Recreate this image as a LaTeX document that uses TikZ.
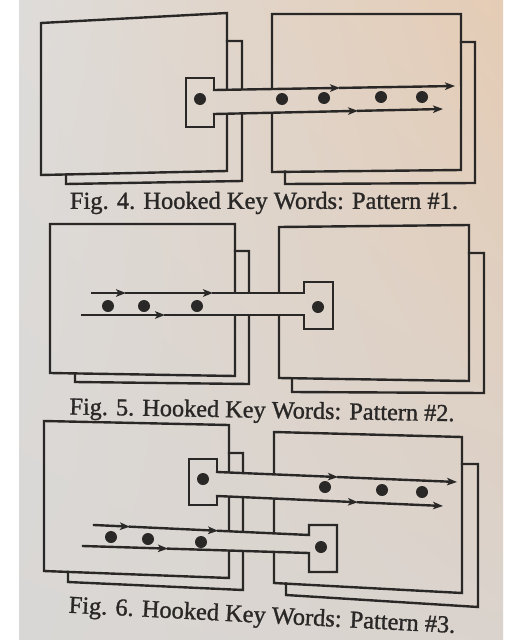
\documentclass[tikz,border=0pt]{standalone}
\usepackage{fontspec}
\usepackage{graphicx}
\setmainfont{Liberation Serif}
\newfontfamily\capfont[FakeBold=1.2]{Liberation Serif}
\usetikzlibrary{arrows.meta,calc,shadings}
\definecolor{ink}{HTML}{2A2827}
\definecolor{bgUL}{HTML}{DEDCDA}
\definecolor{bgUR}{HTML}{E5CCB5}
\definecolor{bgLL}{HTML}{D9D7D5}
\definecolor{bgLR}{HTML}{DAD3CD}
\begin{document}
\begin{tikzpicture}[x=1pt,y=-1pt,
  ln/.style={draw=ink, line width=2.4pt, line cap=rect, line join=miter},
  arr/.style={draw=ink, line width=2.4pt, line cap=rect, -{Stealth[length=10pt,width=7.5pt,inset=2.5pt]}},
  dot/.style={circle, fill=ink, inner sep=0pt, minimum size=12pt},
  figcap/.style={text=ink, inner sep=0pt, font=\capfont}]
\useasboundingbox (0,0) rectangle (513,640);
\fill[white] (0,0) rectangle (513,640);
\shade[upper left=bgUL, upper right=bgUR, lower left=bgLL, lower right=bgLR] (19,0) rectangle (503,640);

% ---------- hook coordinates ----------
% Fig. 4
\coordinate (h4a) at (186,78);  \coordinate (h4b) at (214,78);
\coordinate (h4t) at (214,90);  \coordinate (h4T) at (455,86);
\coordinate (h4u) at (214,114); \coordinate (h4U) at (443,109);
\coordinate (h4c) at (214,127); \coordinate (h4d) at (186,127);
\coordinate (h4m1) at ($(h4t)!0.523!(h4T)$);
\coordinate (h4m2) at ($(h4u)!0.629!(h4U)$);
\coordinate (h4e1) at (460,86); \coordinate (h4e2) at (460,109);
% Fig. 5
\coordinate (h5s) at (92,293);  \coordinate (h5m1) at (126,293);
\coordinate (h5m2) at (213,293); \coordinate (h5t) at (304,293);
\coordinate (h5b) at (304,282); \coordinate (h5a) at (333,282);
\coordinate (h5d) at (333,329); \coordinate (h5c) at (304,329);
\coordinate (h5u) at (304,315); \coordinate (h5m3) at (165,315);
\coordinate (h5S) at (82,315);
\coordinate (h5e1) at (78,293); \coordinate (h5e2) at (78,315);
% Fig. 6 upper hook
\coordinate (g1a) at (189,459); \coordinate (g1b) at (217,459);
\coordinate (g1t) at (217,472); \coordinate (g1T) at (457,482);
\coordinate (g1u) at (217,496); \coordinate (g1U) at (443,506);
\coordinate (g1c) at (217,505); \coordinate (g1d) at (189,505);
\coordinate (g1m1) at ($(g1t)!0.504!(g1T)$);
\coordinate (g1m2) at ($(g1u)!0.624!(g1U)$);
\coordinate (g1e1) at (460,482); \coordinate (g1e2) at (460,506);
% Fig. 6 lower hook
\coordinate (g2s) at (94,525);  \coordinate (g2t) at (309,535);
\coordinate (g2b) at (309,525); \coordinate (g2a) at (337,525);
\coordinate (g2d) at (337,572); \coordinate (g2c) at (309,572);
\coordinate (g2u) at (309,553); \coordinate (g2S) at (83,546);
\coordinate (g2m1) at ($(g2s)!0.167!(g2t)$);
\coordinate (g2m2) at ($(g2s)!0.577!(g2t)$);
\coordinate (g2m3) at ($(g2S)!0.376!(g2u)$);
\coordinate (g2e1) at (80,525); \coordinate (g2e2) at (80,546);

% ---------- boxes (hidden under the hooks) ----------
\begin{scope}[even odd rule]
\clip (0,0) -- (0,640) -- (513,640) -- (513,0) -- cycle
  (h4a) -- (h4b) -- (h4t) -- (h4e1) -- (h4e2) -- (h4u) -- (h4c) -- (h4d) -- cycle
  (h5e1) -- (h5t) -- (h5b) -- (h5a) -- (h5d) -- (h5c) -- (h5u) -- (h5e2) -- cycle
  (g1a) -- (g1b) -- (g1t) -- (g1e1) -- (g1e2) -- (g1u) -- (g1c) -- (g1d) -- cycle
  (g2e1) -- (g2t) -- (g2b) -- (g2a) -- (g2d) -- (g2c) -- (g2u) -- (g2e2) -- cycle;
% Fig. 4
\draw[ln] (41,23) -- (227,13) -- (227,171) -- (41,175) -- cycle;
\draw[ln] (227,41) -- (242,41) -- (242,181) -- (66,184) -- (66,174.5);
\draw[ln] (272,14) -- (461,14) -- (461,170) -- (272,172) -- cycle;
\draw[ln] (461,42) -- (475,42) -- (475,183) -- (285,184) -- (285,171.5);
% Fig. 5
\draw[ln] (50,224) -- (235,224) -- (235,376) -- (50,373) -- cycle;
\draw[ln] (235,251) -- (249,251) -- (249,384) -- (75,382) -- (75,373.5);
\draw[ln] (279,227) -- (469,225) -- (469,381) -- (279,378) -- cycle;
\draw[ln] (469,253) -- (484,253) -- (484,393) -- (292,392) -- (292,378.2);
% Fig. 6
\draw[ln] (44,421) -- (229,425) -- (229,578) -- (44,571) -- cycle;
\draw[ln] (229,453) -- (243,453) -- (243,590) -- (68,582) -- (68,572);
\draw[ln] (274,432) -- (462,437) -- (462,593) -- (274,583) -- cycle;
\draw[ln] (462,464) -- (478,464) -- (478,607) -- (286,595) -- (286,583.6);
\end{scope}

% ---------- hooks ----------
% Fig. 4
\draw[ln] (h4t) -- (h4b) -- (h4a) -- (h4d) -- (h4c) -- (h4u);
\draw[arr] (h4t) -- (h4m1);
\draw[arr] (h4m1) -- (h4T);
\draw[arr] (h4u) -- (h4m2);
\draw[arr] (h4m2) -- (h4U);
\node[dot] (d4a) at (200,99) {};
\node[dot] (d4b) at (282,99) {};
\node[dot] (d4c) at (324,98) {};
\node[dot] (d4d) at (381,97) {};
\node[dot] (d4e) at (422,97) {};
% Fig. 5
\draw[ln] (h5m2) -- (h5t) -- (h5b) -- (h5a) -- (h5d) -- (h5c) -- (h5u) -- (h5m3);
\draw[arr] (h5s) -- (h5m1);
\draw[arr] (h5m1) -- (h5m2);
\draw[arr] (h5S) -- (h5m3);
\node[dot] (d5a) at (108,306) {};
\node[dot] (d5b) at (144,306) {};
\node[dot] (d5c) at (197,306) {};
\node[dot] (d5d) at (318,307) {};
% Fig. 6 upper
\draw[ln] (g1t) -- (g1b) -- (g1a) -- (g1d) -- (g1c) -- (g1u);
\draw[arr] (g1t) -- (g1m1);
\draw[arr] (g1m1) -- (g1T);
\draw[arr] (g1u) -- (g1m2);
\draw[arr] (g1m2) -- (g1U);
\node[dot] (d6a) at (203,479) {};
\node[dot] (d6b) at (325,487) {};
\node[dot] (d6c) at (382,490) {};
\node[dot] (d6d) at (422,492) {};
% Fig. 6 lower
\draw[ln] (g2m2) -- (g2t) -- (g2b) -- (g2a) -- (g2d) -- (g2c) -- (g2u) -- (g2m3);
\draw[arr] (g2s) -- (g2m1);
\draw[arr] (g2m1) -- (g2m2);
\draw[arr] (g2S) -- (g2m3);
\node[dot] (d6e) at (111,537) {};
\node[dot] (d6f) at (148,539) {};
\node[dot] (d6g) at (201,542) {};
\node[dot] (d6h) at (321,547) {};

% ---------- captions ----------
\node[figcap] (c4) at (264,203) {\resizebox{388pt}{!}{Fig. 4. Hooked Key Words: Pattern \#1.}};
\node[figcap, rotate=-1] (c5) at (262,412) {\resizebox{385pt}{!}{Fig. 5. Hooked Key Words: Pattern \#2.}};
\node[figcap, rotate=-3] (c6) at (262,617) {\resizebox{387pt}{!}{Fig. 6. Hooked Key Words: Pattern \#3.}};
\end{tikzpicture}
\end{document}
